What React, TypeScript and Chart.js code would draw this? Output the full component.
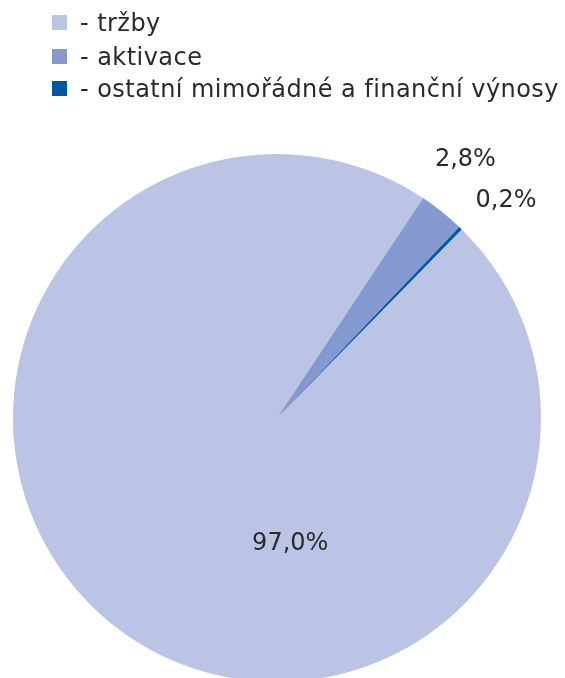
import React, { useEffect, useRef } from "react";
import { Chart, registerables } from "chart.js";

Chart.register(...registerables);

const categories = ["tržby", "aktivace", "ostatní mimořádné a finanční výnosy"];
const values = [97.0, 2.8, 0.2];
const valueLabels = ["97,0%", "2,8%", "0,2%"];
const colors = ["#BBC4E5", "#8499CF", "#0057A8"];

const FONT = "'DejaVu Sans', sans-serif";
const TEXT_COLOR = "#2a2a2a";

// label placement relative to each arc: angle offset from arc middle (deg) or absolute angle, radius factor
const labelPlacement = [
  { absAngle: 174, rf: 0.48 },
  { dAngle: -2.5, rf: 1.21 },
  { dAngle: 2.5, rf: 1.195 },
];

const overlayPlugin = {
  id: "overlay",
  afterDraw(chart: any) {
    const ctx = chart.ctx;
    const meta = chart.getDatasetMeta(0);
    ctx.save();
    ctx.font = `24px ${FONT}`;
    ctx.fillStyle = TEXT_COLOR;
    ctx.textAlign = "center";
    ctx.textBaseline = "middle";
    meta.data.forEach((arc: any, i: number) => {
      const p = arc.getProps(["x", "y", "startAngle", "endAngle", "outerRadius"], true);
      const pl: any = labelPlacement[i];
      let ang: number;
      if (pl.absAngle !== undefined) {
        ang = (pl.absAngle * Math.PI) / 180 - Math.PI / 2;
      } else {
        ang = (p.startAngle + p.endAngle) / 2 + (pl.dAngle * Math.PI) / 180;
      }
      const r = p.outerRadius * pl.rf;
      ctx.fillText(valueLabels[i], p.x + Math.cos(ang) * r, p.y + Math.sin(ang) * r);
    });

    // legend
    ctx.font = `24px ${FONT}`;
    (ctx as any).letterSpacing = "0.45px";
    ctx.textAlign = "left";
    ctx.textBaseline = "alphabetic";
    const rows = [31, 65, 97];
    categories.forEach((c, i) => {
      ctx.fillStyle = colors[i];
      ctx.fillRect(52, rows[i] - 16, 15, 15);
      ctx.fillStyle = TEXT_COLOR;
      ctx.fillText("- " + c, 80, rows[i]);
    });
    ctx.restore();
  },
};

export default function App() {
  const ref = useRef<HTMLCanvasElement>(null);
  useEffect(() => {
    if (!ref.current) return;
    const chart = new Chart(ref.current, {
      type: "pie",
      data: {
        labels: categories,
        datasets: [
          {
            data: values,
            backgroundColor: colors,
            borderWidth: 0,
          },
        ],
      },
      options: {
        responsive: false,
        animation: false,
        rotation: 44.4,
        layout: { padding: { left: 13, right: 24, top: 154, bottom: 18 } },
        plugins: {
          legend: { display: false },
          tooltip: { enabled: false },
        },
      },
      plugins: [overlayPlugin],
    });
    return () => chart.destroy();
  }, []);
  return (
    <div style={{ position: "absolute", left: 0, top: 0, width: 565, height: 700 }}>
      <canvas ref={ref} width={565} height={700} style={{ display: "block" }} />
    </div>
  );
}
